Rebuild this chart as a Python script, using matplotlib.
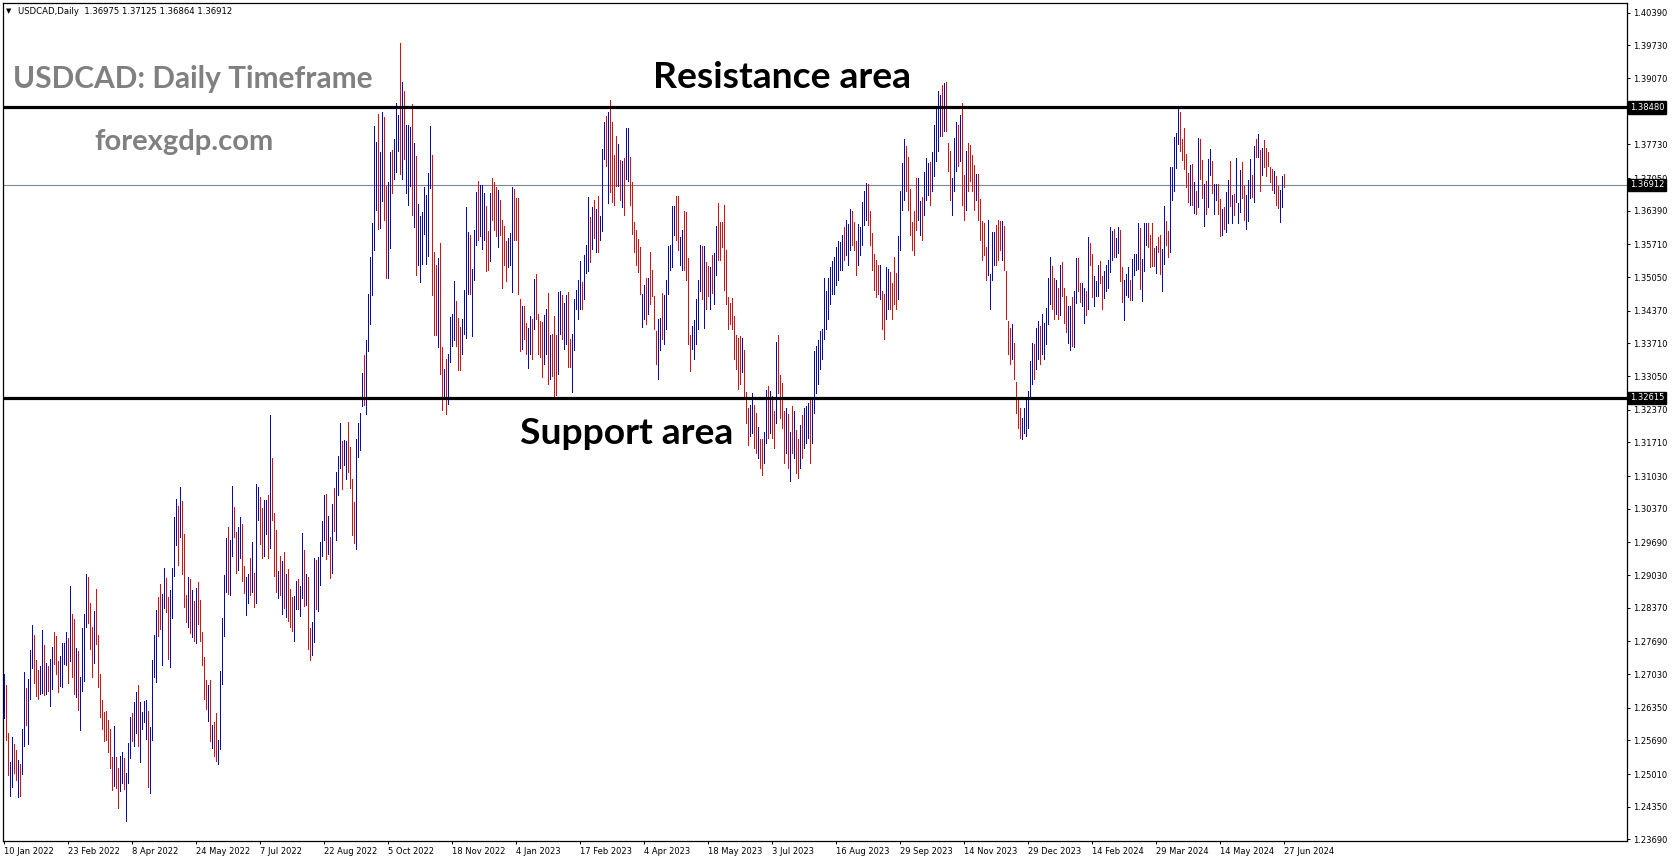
import matplotlib
matplotlib.use("Agg")
import matplotlib.pyplot as plt
import matplotlib.transforms as mtransforms

# ---------------- data ----------------
bar_highs = [
    1.2704, 1.2681, 1.2584, 1.2526, 1.2576, 1.2562, 1.2550, 1.2530, 1.2522, 1.2592,
    1.2708, 1.2675, 1.2693, 1.2752, 1.2803, 1.2782, 1.2732, 1.2712, 1.2720, 1.2792,
    1.2762, 1.2726, 1.2720, 1.2734, 1.2758, 1.2788, 1.2780, 1.2730, 1.2740, 1.2766,
    1.2766, 1.2788, 1.2776, 1.2881, 1.2825, 1.2815, 1.2756, 1.2750, 1.2698, 1.2796,
    1.2825, 1.2906, 1.2900, 1.2847, 1.2799, 1.2831, 1.2875, 1.2782, 1.2704, 1.2651,
    1.2627, 1.2629, 1.2611, 1.2592, 1.2536, 1.2599, 1.2536, 1.2514, 1.2538, 1.2546,
    1.2534, 1.2504, 1.2564, 1.2617, 1.2625, 1.2647, 1.2667, 1.2681, 1.2647, 1.2627,
    1.2649, 1.2651, 1.2629, 1.2597, 1.2732, 1.2782, 1.2833, 1.2859, 1.2885, 1.2865,
    1.2918, 1.2898, 1.2859, 1.2873, 1.2918, 1.3021, 1.3057, 1.3043, 1.3081, 1.3053,
    1.2986, 1.2863, 1.2900, 1.2895, 1.2873, 1.2851, 1.2877, 1.2889, 1.2853, 1.2788,
    1.2738, 1.2691, 1.2681, 1.2691, 1.2601, 1.2607, 1.2625, 1.2570, 1.2710, 1.2817,
    1.2904, 1.2978, 1.3001, 1.2974, 1.3083, 1.3041, 1.2990, 1.3001, 1.3021, 1.3007,
    1.2922, 1.2900, 1.2906, 1.2938, 1.2970, 1.2908, 1.3087, 1.3081, 1.3061, 1.3039,
    1.3055, 1.3055, 1.3065, 1.3227, 1.3140, 1.3029, 1.2994, 1.2912, 1.2942, 1.2932,
    1.2950, 1.2906, 1.2916, 1.2875, 1.2859, 1.2861, 1.2891, 1.2895, 1.2881, 1.2988,
    1.2954, 1.2906, 1.2900, 1.2796, 1.2809, 1.2938, 1.2934, 1.2940, 1.2970, 1.3013,
    1.3065, 1.3067, 1.3023, 1.2980, 1.3047, 1.3079, 1.3112, 1.3144, 1.3211, 1.3174,
    1.3176, 1.3174, 1.3213, 1.3162, 1.3097, 1.3051, 1.3178, 1.3211, 1.3231, 1.3312,
    1.3348, 1.3378, 1.3471, 1.3546, 1.3615, 1.3811, 1.3778, 1.3835, 1.3758, 1.3839,
    1.3829, 1.3689, 1.3697, 1.3758, 1.3762, 1.3784, 1.3857, 1.3833, 1.3978, 1.3899,
    1.3881, 1.3812, 1.3812, 1.3808, 1.3855, 1.3776, 1.3750, 1.3653, 1.3629, 1.3637,
    1.3687, 1.3671, 1.3716, 1.3811, 1.3752, 1.3556, 1.3530, 1.3544, 1.3574, 1.3364,
    1.3320, 1.3340, 1.3350, 1.3425, 1.3431, 1.3497, 1.3457, 1.3423, 1.3405, 1.3420,
    1.3480, 1.3647, 1.3597, 1.3590, 1.3521, 1.3600, 1.3676, 1.3699, 1.3692, 1.3692,
    1.3675, 1.3648, 1.3599, 1.3674, 1.3706, 1.3697, 1.3687, 1.3681, 1.3660, 1.3620,
    1.3609, 1.3579, 1.3585, 1.3595, 1.3687, 1.3684, 1.3665, 1.3665, 1.3460, 1.3447,
    1.3447, 1.3413, 1.3403, 1.3426, 1.3420, 1.3501, 1.3511, 1.3430, 1.3416, 1.3414,
    1.3428, 1.3440, 1.3472, 1.3389, 1.3390, 1.3426, 1.3389, 1.3475, 1.3476, 1.3468,
    1.3452, 1.3469, 1.3475, 1.3381, 1.3391, 1.3460, 1.3480, 1.3500, 1.3538, 1.3496,
    1.3550, 1.3570, 1.3667, 1.3626, 1.3647, 1.3660, 1.3642, 1.3668, 1.3628, 1.3764,
    1.3818, 1.3830, 1.3839, 1.3863, 1.3818, 1.3751, 1.3790, 1.3773, 1.3741, 1.3739,
    1.3745, 1.3806, 1.3806, 1.3748, 1.3697, 1.3617, 1.3600, 1.3582, 1.3565, 1.3471,
    1.3490, 1.3504, 1.3503, 1.3555, 1.3519, 1.3467, 1.3396, 1.3420, 1.3422, 1.3473,
    1.3468, 1.3500, 1.3567, 1.3569, 1.3648, 1.3649, 1.3668, 1.3668, 1.3586, 1.3600,
    1.3638, 1.3636, 1.3543, 1.3389, 1.3406, 1.3418, 1.3460, 1.3500, 1.3569, 1.3567,
    1.3567, 1.3536, 1.3527, 1.3525, 1.3550, 1.3554, 1.3609, 1.3655, 1.3617, 1.3616,
    1.3651, 1.3560, 1.3465, 1.3453, 1.3462, 1.3426, 1.3389, 1.3383, 1.3386, 1.3383,
    1.3357, 1.3272, 1.3240, 1.3247, 1.3270, 1.3247, 1.3230, 1.3203, 1.3179, 1.3179,
    1.3193, 1.3278, 1.3286, 1.3274, 1.3264, 1.3235, 1.3374, 1.3389, 1.3307, 1.3291,
    1.3234, 1.3240, 1.3228, 1.3193, 1.3244, 1.3234, 1.3196, 1.3179, 1.3206, 1.3227,
    1.3240, 1.3244, 1.3250, 1.3259, 1.3261, 1.3355, 1.3365, 1.3378, 1.3396, 1.3401,
    1.3503, 1.3477, 1.3503, 1.3525, 1.3538, 1.3546, 1.3565, 1.3579, 1.3575, 1.3590,
    1.3606, 1.3620, 1.3613, 1.3642, 1.3638, 1.3617, 1.3579, 1.3613, 1.3606, 1.3657,
    1.3680, 1.3696, 1.3693, 1.3638, 1.3594, 1.3552, 1.3540, 1.3529, 1.3529, 1.3477,
    1.3471, 1.3525, 1.3521, 1.3516, 1.3494, 1.3545, 1.3514, 1.3589, 1.3680, 1.3736,
    1.3784, 1.3770, 1.3748, 1.3684, 1.3616, 1.3638, 1.3705, 1.3705, 1.3659, 1.3667,
    1.3718, 1.3745, 1.3735, 1.3738, 1.3757, 1.3812, 1.3850, 1.3882, 1.3873, 1.3894,
    1.3897, 1.3900, 1.3775, 1.3760, 1.3705, 1.3786, 1.3819, 1.3812, 1.3833, 1.3856,
    1.3711, 1.3760, 1.3775, 1.3772, 1.3751, 1.3731, 1.3714, 1.3714, 1.3663, 1.3619,
    1.3614, 1.3565, 1.3621, 1.3511, 1.3596, 1.3596, 1.3610, 1.3621, 1.3619, 1.3619,
    1.3609, 1.3518, 1.3416, 1.3403, 1.3410, 1.3372, 1.3294, 1.3261, 1.3240, 1.3220,
    1.3240, 1.3260, 1.3274, 1.3335, 1.3372, 1.3369, 1.3403, 1.3416, 1.3406, 1.3430,
    1.3413, 1.3443, 1.3504, 1.3545, 1.3528, 1.3504, 1.3500, 1.3484, 1.3530, 1.3536,
    1.3484, 1.3467, 1.3447, 1.3447, 1.3465, 1.3477, 1.3544, 1.3544, 1.3493, 1.3493,
    1.3483, 1.3476, 1.3587, 1.3573, 1.3552, 1.3508, 1.3498, 1.3530, 1.3538, 1.3508,
    1.3518, 1.3530, 1.3540, 1.3607, 1.3599, 1.3603, 1.3585, 1.3607, 1.3601, 1.3526,
    1.3500, 1.3512, 1.3526, 1.3500, 1.3542, 1.3552, 1.3552, 1.3615, 1.3605, 1.3542,
    1.3615, 1.3615, 1.3615, 1.3591, 1.3615, 1.3563, 1.3568, 1.3586, 1.3591, 1.3561,
    1.3648, 1.3618, 1.3599, 1.3727, 1.3727, 1.3788, 1.3796, 1.3845, 1.3839, 1.3784,
    1.3806, 1.3753, 1.3715, 1.3731, 1.3733, 1.3697, 1.3678, 1.3786, 1.3784, 1.3742,
    1.3693, 1.3699, 1.3743, 1.3764, 1.3739, 1.3693, 1.3693, 1.3693, 1.3662, 1.3642,
    1.3647, 1.3676, 1.3701, 1.3739, 1.3671, 1.3672, 1.3745, 1.3655, 1.3721, 1.3737,
    1.3690, 1.3670, 1.3701, 1.3743, 1.3711, 1.3770, 1.3784, 1.3794, 1.3762, 1.3766,
    1.3782, 1.3766, 1.3758, 1.3727, 1.3723, 1.3719, 1.3709, 1.3690, 1.3682, 1.3709,
    1.37125,
]
bar_lows = [
    1.2615, 1.2570, 1.2500, 1.2457, 1.2475, 1.2504, 1.2489, 1.2455, 1.2457, 1.2502,
    1.2558, 1.2601, 1.2562, 1.2653, 1.2716, 1.2685, 1.2659, 1.2653, 1.2663, 1.2665,
    1.2661, 1.2663, 1.2669, 1.2639, 1.2673, 1.2724, 1.2704, 1.2667, 1.2679, 1.2677,
    1.2724, 1.2722, 1.2685, 1.2730, 1.2698, 1.2663, 1.2657, 1.2631, 1.2590, 1.2669,
    1.2689, 1.2799, 1.2807, 1.2754, 1.2698, 1.2726, 1.2764, 1.2677, 1.2617, 1.2592,
    1.2568, 1.2570, 1.2546, 1.2514, 1.2469, 1.2477, 1.2473, 1.2433, 1.2467, 1.2483,
    1.2471, 1.2407, 1.2483, 1.2534, 1.2568, 1.2558, 1.2584, 1.2558, 1.2526, 1.2592,
    1.2607, 1.2572, 1.2475, 1.2463, 1.2570, 1.2698, 1.2687, 1.2780, 1.2794, 1.2722,
    1.2837, 1.2829, 1.2734, 1.2718, 1.2817, 1.2902, 1.2964, 1.2924, 1.2980, 1.2906,
    1.2839, 1.2809, 1.2799, 1.2786, 1.2778, 1.2770, 1.2766, 1.2805, 1.2770, 1.2722,
    1.2653, 1.2633, 1.2609, 1.2568, 1.2554, 1.2538, 1.2528, 1.2522, 1.2552, 1.2683,
    1.2780, 1.2869, 1.2865, 1.2863, 1.2942, 1.2980, 1.2908, 1.2914, 1.2938, 1.2891,
    1.2867, 1.2823, 1.2847, 1.2863, 1.2869, 1.2839, 1.2847, 1.3015, 1.2966, 1.2938,
    1.2942, 1.2986, 1.2938, 1.2958, 1.3015, 1.2902, 1.2869, 1.2857, 1.2863, 1.2825,
    1.2837, 1.2819, 1.2811, 1.2799, 1.2790, 1.2770, 1.2835, 1.2835, 1.2821, 1.2857,
    1.2841, 1.2843, 1.2754, 1.2732, 1.2742, 1.2768, 1.2835, 1.2831, 1.2883, 1.2942,
    1.2974, 1.2936, 1.2946, 1.2898, 1.2908, 1.2992, 1.2974, 1.3065, 1.3120, 1.3077,
    1.3126, 1.3097, 1.3112, 1.3079, 1.2984, 1.2968, 1.2956, 1.3142, 1.3156, 1.3245,
    1.3247, 1.3229, 1.3356, 1.3411, 1.3469, 1.3560, 1.3641, 1.3602, 1.3604, 1.3659,
    1.3621, 1.3503, 1.3503, 1.3564, 1.3675, 1.3703, 1.3718, 1.3760, 1.3714, 1.3703,
    1.3744, 1.3675, 1.3651, 1.3689, 1.3631, 1.3606, 1.3510, 1.3530, 1.3495, 1.3532,
    1.3592, 1.3532, 1.3548, 1.3685, 1.3469, 1.3388, 1.3388, 1.3364, 1.3310, 1.3237,
    1.3261, 1.3229, 1.3249, 1.3334, 1.3366, 1.3378, 1.3366, 1.3318, 1.3318, 1.3350,
    1.3390, 1.3383, 1.3470, 1.3470, 1.3386, 1.3500, 1.3569, 1.3580, 1.3589, 1.3562,
    1.3580, 1.3518, 1.3520, 1.3538, 1.3620, 1.3600, 1.3589, 1.3565, 1.3590, 1.3484,
    1.3530, 1.3497, 1.3525, 1.3530, 1.3474, 1.3580, 1.3580, 1.3470, 1.3355, 1.3360,
    1.3380, 1.3349, 1.3322, 1.3350, 1.3340, 1.3400, 1.3420, 1.3350, 1.3343, 1.3303,
    1.3330, 1.3350, 1.3290, 1.3300, 1.3305, 1.3265, 1.3266, 1.3310, 1.3390, 1.3380,
    1.3360, 1.3370, 1.3324, 1.3324, 1.3272, 1.3357, 1.3440, 1.3420, 1.3440, 1.3440,
    1.3460, 1.3513, 1.3517, 1.3535, 1.3562, 1.3584, 1.3556, 1.3556, 1.3580, 1.3599,
    1.3743, 1.3730, 1.3655, 1.3677, 1.3657, 1.3650, 1.3690, 1.3690, 1.3660, 1.3646,
    1.3630, 1.3704, 1.3700, 1.3650, 1.3592, 1.3555, 1.3530, 1.3516, 1.3470, 1.3405,
    1.3420, 1.3410, 1.3430, 1.3450, 1.3467, 1.3400, 1.3330, 1.3299, 1.3358, 1.3380,
    1.3370, 1.3400, 1.3470, 1.3520, 1.3526, 1.3590, 1.3580, 1.3560, 1.3530, 1.3520,
    1.3520, 1.3500, 1.3370, 1.3315, 1.3360, 1.3340, 1.3370, 1.3400, 1.3476, 1.3460,
    1.3403, 1.3440, 1.3467, 1.3440, 1.3473, 1.3450, 1.3510, 1.3540, 1.3540, 1.3565,
    1.3480, 1.3450, 1.3400, 1.3410, 1.3400, 1.3340, 1.3320, 1.3280, 1.3290, 1.3313,
    1.3260, 1.3210, 1.3165, 1.3185, 1.3190, 1.3160, 1.3150, 1.3140, 1.3120, 1.3105,
    1.3130, 1.3170, 1.3180, 1.3190, 1.3180, 1.3160, 1.3210, 1.3270, 1.3220, 1.3200,
    1.3130, 1.3150, 1.3120, 1.3093, 1.3150, 1.3140, 1.3110, 1.3100, 1.3120, 1.3140,
    1.3160, 1.3170, 1.3180, 1.3130, 1.3170, 1.3230, 1.3270, 1.3290, 1.3320, 1.3340,
    1.3380, 1.3400, 1.3420, 1.3450, 1.3470, 1.3470, 1.3490, 1.3500, 1.3520, 1.3520,
    1.3540, 1.3550, 1.3530, 1.3560, 1.3570, 1.3560, 1.3510, 1.3530, 1.3550, 1.3570,
    1.3610, 1.3620, 1.3610, 1.3570, 1.3520, 1.3480, 1.3465, 1.3470, 1.3460, 1.3400,
    1.3380, 1.3420, 1.3440, 1.3440, 1.3420, 1.3450, 1.3440, 1.3460, 1.3560, 1.3640,
    1.3660, 1.3680, 1.3640, 1.3590, 1.3560, 1.3550, 1.3600, 1.3620, 1.3590, 1.3580,
    1.3630, 1.3660, 1.3670, 1.3650, 1.3680, 1.3710, 1.3740, 1.3760, 1.3790, 1.3790,
    1.3800, 1.3800, 1.3720, 1.3660, 1.3630, 1.3680, 1.3720, 1.3730, 1.3740, 1.3650,
    1.3620, 1.3640, 1.3680, 1.3700, 1.3680, 1.3640, 1.3660, 1.3620, 1.3580, 1.3540,
    1.3550, 1.3500, 1.3510, 1.3440, 1.3500, 1.3530, 1.3530, 1.3540, 1.3560, 1.3540,
    1.3520, 1.3420, 1.3350, 1.3330, 1.3340, 1.3300, 1.3230, 1.3200, 1.3180, 1.3178,
    1.3190, 1.3185, 1.3200, 1.3260, 1.3290, 1.3300, 1.3320, 1.3340, 1.3330, 1.3350,
    1.3340, 1.3370, 1.3410, 1.3450, 1.3440, 1.3420, 1.3430, 1.3420, 1.3429, 1.3467,
    1.3413, 1.3395, 1.3372, 1.3357, 1.3366, 1.3364, 1.3452, 1.3476, 1.3454, 1.3447,
    1.3413, 1.3429, 1.3440, 1.3530, 1.3464, 1.3447, 1.3467, 1.3467, 1.3494, 1.3441,
    1.3462, 1.3477, 1.3484, 1.3516, 1.3540, 1.3545, 1.3545, 1.3554, 1.3498, 1.3454,
    1.3419, 1.3468, 1.3465, 1.3458, 1.3459, 1.3510, 1.3520, 1.3522, 1.3482, 1.3456,
    1.3518, 1.3569, 1.3565, 1.3525, 1.3528, 1.3528, 1.3514, 1.3556, 1.3511, 1.3477,
    1.3532, 1.3569, 1.3546, 1.3555, 1.3660, 1.3680, 1.3726, 1.3773, 1.3760, 1.3741,
    1.3724, 1.3687, 1.3656, 1.3650, 1.3651, 1.3634, 1.3633, 1.3647, 1.3703, 1.3665,
    1.3609, 1.3632, 1.3647, 1.3711, 1.3675, 1.3632, 1.3660, 1.3633, 1.3589, 1.3591,
    1.3602, 1.3596, 1.3614, 1.3649, 1.3614, 1.3630, 1.3657, 1.3614, 1.3637, 1.3665,
    1.3621, 1.3602, 1.3619, 1.3665, 1.3667, 1.3657, 1.3747, 1.3747, 1.3678, 1.3711,
    1.3727, 1.3709, 1.3729, 1.3697, 1.3682, 1.3674, 1.3650, 1.3645, 1.3617, 1.3647,
    1.36864,
]
# 'u' = bull bar (blue), 'd' = bear bar (red)
bar_dirs = list(
    "udduuddudu" "uduuuddduu" "duduuddduu" "uududduduu" "uudddudddd"
    "dddddudduu" "duuuduuduu" "uuduuuuddu" "udduuuudud" "ddudududdd"
    "ddududduuu" "uuduudduud" "duududuudd" "uududddudu" "duddduuduu"
    "dudduuduuu" "udududuuud" "uudddduuuu" "duuuuuuduu" "dduuduuudu"
    "duuududuuu" "uuuudddudd" "uduuuudd"
    "duuuuduuud" "uuuddudddu" "dddduuuddd" "dudduududd"
    "dduududddu" "uduudduuuu" "uduuududud" "uuududdddu" "duduuddddd"
    "duududdddu" "uduuuuuudd" "uudddduuuu" "ududduduud" "dddddddddd"
    "duddduuddu" "dduududdud" "dddudududd" "uduuuduuuu" "uuuuuuuuuu"
    "uuduuudddu" "uuuudddddd" "udduuddddu" "uuuddddddu" "uduuuduuuu"
    "ududdduuud" "udduddddud" "dddduuuudd" "dudddduddd" "duuuuuuduu"
    "duuuuuddud" "uddduuduud" "duududduuu" "dduuuuuduu" "dduuuduuuu"
    "duuuddddud" "duudduuuuu" "dddddududu" "dduduuduud" "duduududuu"
    "udduuududu" "dudddddudd" "uud"
)

date_labels = ["10 Jan 2022", "23 Feb 2022", "8 Apr 2022", "24 May 2022", "7 Jul 2022",
               "22 Aug 2022", "5 Oct 2022", "18 Nov 2022", "4 Jan 2023", "17 Feb 2023",
               "4 Apr 2023", "18 May 2023", "3 Jul 2023", "16 Aug 2023", "29 Sep 2023",
               "14 Nov 2023", "29 Dec 2023", "14 Feb 2024", "29 Mar 2024", "14 May 2024",
               "27 Jun 2024"]
bars_per_label = 32

price_ticks = [1.40390, 1.39730, 1.39070, 1.38390, 1.37730, 1.37050, 1.36390, 1.35710,
               1.35050, 1.34370, 1.33710, 1.33050, 1.32370, 1.31710, 1.31030, 1.30370,
               1.29690, 1.29030, 1.28370, 1.27690, 1.27030, 1.26350, 1.25690, 1.25010,
               1.24350, 1.23690]

resistance_level = 1.38480
support_level = 1.32615
last_price = 1.36912
header = "USDCAD,Daily  1.36975 1.37125 1.36864 1.36912"

# ---------------- figure ----------------
W, H = 1673, 861
fig = plt.figure(figsize=(W / 100, H / 100), dpi=100)
fig.patch.set_facecolor("white")
ax_left, ax_right, ax_top, ax_bot = 3, 1627, 3, 841
ax = fig.add_axes([ax_left / W, 1 - ax_bot / H, (ax_right - ax_left) / W, (ax_bot - ax_top) / H])
ax.set_facecolor("white")

n = min(len(bar_highs), len(bar_lows), len(bar_dirs))
xs = list(range(n))
up_x = [i for i in xs if bar_dirs[i] == "u"]
dn_x = [i for i in xs if bar_dirs[i] == "d"]
ax.vlines(up_x, [bar_lows[i] for i in up_x], [bar_highs[i] for i in up_x],
          colors="#0000ee", linewidth=0.72, antialiased=False, zorder=3)
ax.vlines(dn_x, [bar_lows[i] for i in dn_x], [bar_highs[i] for i in dn_x],
          colors="#ff0000", linewidth=0.72, antialiased=False, zorder=3)

# horizontal levels
ax.axhline(last_price, color="#778899", linewidth=0.8, zorder=2)
ax.axhline(resistance_level, color="black", linewidth=2.3, zorder=4)
ax.axhline(support_level, color="black", linewidth=2.3, zorder=4)

# axes limits: 2 px per bar
ax.set_xlim(-0.3, (ax_right - ax_left) / 2 - 0.3)
ax.set_ylim(1.23659, 1.40588)

# y axis on the right
ax.yaxis.tick_right()
ax.set_yticks(price_ticks)
ax.set_yticklabels([f"{v:.5f}" for v in price_ticks])
ax.tick_params(axis="y", direction="out", length=2.5, width=0.7, pad=2,
               labelsize=6, colors="black")

# x axis
xt = [k * bars_per_label for k in range(len(date_labels))]
ax.set_xticks(xt)
ax.set_xticklabels(date_labels, ha="left")
ax.tick_params(axis="x", direction="out", length=2.5, width=0.7, pad=1.5,
               labelsize=6, colors="black")
for lab in ax.get_xticklabels():
    lab.set_horizontalalignment("left")

for sp in ax.spines.values():
    sp.set_linewidth(0.9)
    sp.set_color("black")

# price boxes on the axis
bt = mtransforms.blended_transform_factory(fig.transFigure, ax.transData)
for lvl in (resistance_level, last_price, support_level):
    ax.text((ax_right + 3) / W, lvl, f"{lvl:.5f}", transform=bt, color="white",
            fontsize=6, ha="left", va="center", zorder=20, clip_on=False,
            bbox=dict(boxstyle="square,pad=0.2", fc="black", ec="black"))

# header
fig.text(6 / W, 1 - 11 / H, "\u25BC", fontsize=5, ha="left", va="center", color="black")
fig.text(18 / W, 1 - 11 / H, header, fontsize=6.1, ha="left", va="center", color="black")

# annotations
fig.text(13 / W, 1 - 88 / H, "USDCAD: Daily Timeframe", fontsize=21.5, fontweight="bold",
         family="Lato", color="#808080", ha="left", va="baseline")
fig.text(94 / W, 1 - 150 / H, "forexgdp.com", fontsize=21, fontweight="bold",
         family="Lato", color="#808080", ha="left", va="baseline")
fig.text(653 / W, 1 - 88 / H, "Resistance area", fontsize=26.8, fontweight="bold",
         family="Lato", color="black", ha="left", va="baseline")
fig.text(520 / W, 1 - 444 / H, "Support area", fontsize=26.8, fontweight="bold",
         family="Lato", color="black", ha="left", va="baseline")

fig.savefig("out.png", dpi=100, facecolor="white")
